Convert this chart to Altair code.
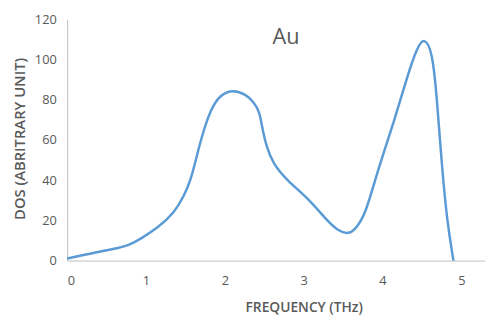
import altair as alt
import pandas as pd

freq = [0.0, 0.28, 0.61, 0.78, 0.94, 1.15, 1.36, 1.48, 1.57, 1.65, 1.73, 1.82, 1.94, 2.11, 2.27, 2.36, 2.44, 2.48, 2.53, 2.61, 2.78, 3.07, 3.28, 3.44, 3.57, 3.65, 3.78, 3.94, 4.15, 4.32, 4.44, 4.53, 4.63, 4.69, 4.75, 4.82, 4.9]
dos = [1.0, 3.4, 5.9, 7.5, 11.0, 16.3, 23.8, 32, 40, 53, 64.6, 75, 82.5, 85, 82.5, 79, 74.4, 64.6, 56.5, 48.3, 40.2, 30.4, 20.6, 14.5, 13.2, 15.4, 22.2, 45, 69.5, 92.4, 106, 111, 104.5, 81, 48.3, 19, 0]

title_text = ["Au"]

df = pd.DataFrame({"freq": freq, "dos": dos})

grey = "#595959"
font = "Open Sans"

line = alt.Chart(df).mark_line(
    interpolate="basis", color="#5B9BD5", strokeWidth=2.5
).encode(
    x=alt.X("freq:Q", scale=alt.Scale(domain=[0, 5.3], nice=False),
            axis=alt.Axis(values=[0, 1, 2, 3, 4, 5], format="d", title="FREQUENCY (THz)",
                          grid=False, ticks=False, domainColor="#bfbfbf",
                          labelColor=grey, labelFontSize=13, labelFont=font, labelPadding=14,
                          titleColor=grey, titleFont=font, titleFontSize=14, titleFontWeight=600,
                          titleX=240, titleY=52, titleAlign="center", titleBaseline="alphabetic")),
    y=alt.Y("dos:Q", scale=alt.Scale(domain=[0, 120], nice=False),
            axis=alt.Axis(values=[0, 20, 40, 60, 80, 100, 120], title="DOS (ABRITRARY UNIT)",
                          grid=False, ticks=False, domainColor="#bfbfbf",
                          labelColor=grey, labelFontSize=13, labelFont=font, labelPadding=11,
                          titleColor=grey, titleFont=font, titleFontSize=15, titleFontWeight=600,
                          titleX=-48, titleY=121, titleAlign="center", titleBaseline="middle")),
)

label = alt.Chart(pd.DataFrame({"t": title_text})).mark_text(
    font=font, fontSize=22, color=grey, align="center", baseline="alphabetic"
).encode(text="t:N", x=alt.value(222), y=alt.value(25))

chart = alt.layer(line, label).properties(
    width=424, height=245,
    autosize=alt.AutoSizeParams(type="none"),
    padding={"left": 60, "top": 9, "right": 0, "bottom": 58},
).configure_view(stroke=None)

chart.save("out.html", embed_options={"renderer": "svg", "actions": False})
